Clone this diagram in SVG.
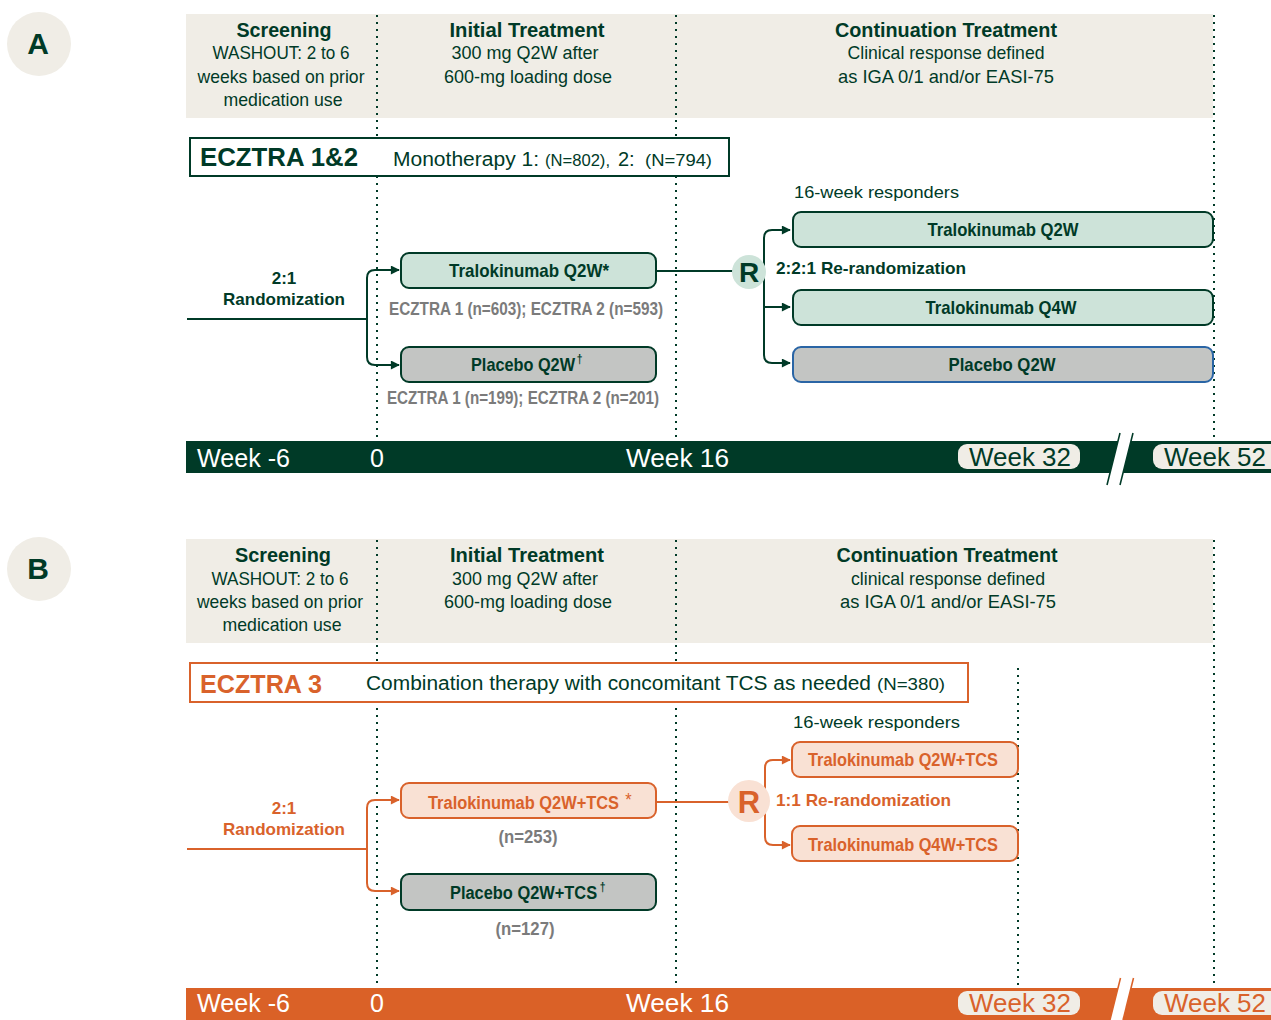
<svg xmlns="http://www.w3.org/2000/svg" width="1271" height="1020" viewBox="0 0 1271 1020">
<style>
.dk{fill:#003a27}
.or{fill:#d9622b}
.gy{fill:#7b7b7b}
.wh{fill:#ffffff}
.bg{fill:#f0ede6}
.hb{font-family:"Liberation Sans",Arial,sans-serif;font-weight:bold;font-size:20px}
.hr{font-family:"Liberation Sans Narrow","Liberation Sans",Arial,sans-serif;font-size:19px}
.cb{font-family:"Liberation Sans Narrow","Liberation Sans",Arial,sans-serif;font-weight:bold;font-size:19px}
.lb{font-family:"Liberation Sans",Arial,sans-serif;font-weight:bold;font-size:17px}
.rg{font-family:"Liberation Sans",Arial,sans-serif;font-size:17px}
.wk{font-family:"Liberation Sans",Arial,sans-serif;font-size:25px}
.big{font-family:"Liberation Sans",Arial,sans-serif;font-weight:900;font-size:25px}
.sup{font-size:12px;font-weight:bold}
.dot{stroke:#003a27;stroke-width:2;stroke-dasharray:2 5;fill:none}
.cg{stroke:#003a27;stroke-width:2;fill:none}
.co{stroke:#d9622b;stroke-width:2;fill:none}
.bxg{fill:#cde3d9;stroke:#003a27;stroke-width:2}
.bxy{fill:#c3c5c3;stroke:#003a27;stroke-width:2}
.bxb{fill:#c3c5c3;stroke:#2a65a5;stroke-width:2}
.bxo{fill:#f9e1d4;stroke:#d9622b;stroke-width:2}
</style>
<defs>
<marker id="ag" viewBox="0 0 10 10" refX="9" refY="5" markerWidth="11" markerHeight="9" markerUnits="userSpaceOnUse" orient="auto"><path d="M0,0 L10,5 L0,10 z" fill="#003a27"/></marker>
<marker id="ao" viewBox="0 0 10 10" refX="9" refY="5" markerWidth="11" markerHeight="9" markerUnits="userSpaceOnUse" orient="auto"><path d="M0,0 L10,5 L0,10 z" fill="#d9622b"/></marker>
</defs>
<rect width="1271" height="1020" fill="#ffffff"/>

<!-- ===== Section A ===== -->
<g id="labelA">
<circle cx="39" cy="44" r="32" class="bg"/>
<text x="38" y="54" text-anchor="middle" class="dk" font-family="Liberation Sans, Arial, sans-serif" font-weight="900" font-size="30">A</text>
</g>
<g id="headerA">
<rect x="186" y="14" width="1027" height="104" class="bg"/>
<text x="284" y="37" text-anchor="middle" class="hb dk" textLength="95" lengthAdjust="spacingAndGlyphs">Screening</text>
<text x="281" y="59" text-anchor="middle" class="hr dk" textLength="137" lengthAdjust="spacingAndGlyphs">WASHOUT: 2 to 6</text>
<text x="281" y="83" text-anchor="middle" class="hr dk" textLength="167" lengthAdjust="spacingAndGlyphs">weeks based on prior</text>
<text x="283" y="106" text-anchor="middle" class="hr dk" textLength="119" lengthAdjust="spacingAndGlyphs">medication use</text>
<text x="527" y="37" text-anchor="middle" class="hb dk" textLength="155" lengthAdjust="spacingAndGlyphs">Initial Treatment</text>
<text x="525" y="59" text-anchor="middle" class="hr dk" textLength="147" lengthAdjust="spacingAndGlyphs">300 mg Q2W after</text>
<text x="528" y="83" text-anchor="middle" class="hr dk" textLength="168" lengthAdjust="spacingAndGlyphs">600-mg loading dose</text>
<text x="946" y="37" text-anchor="middle" class="hb dk" textLength="222" lengthAdjust="spacingAndGlyphs">Continuation Treatment</text>
<text x="946" y="59" text-anchor="middle" class="hr dk" textLength="197" lengthAdjust="spacingAndGlyphs">Clinical response defined</text>
<text x="946" y="83" text-anchor="middle" class="hr dk" textLength="216" lengthAdjust="spacingAndGlyphs">as IGA 0/1 and/or EASI-75</text>
</g>
<g id="gridA">
<line x1="377" y1="15" x2="377" y2="440" class="dot"/>
<line x1="676" y1="15" x2="676" y2="440" class="dot"/>
<line x1="1214" y1="15" x2="1214" y2="440" class="dot"/>
</g>
<g id="studyA">
<rect x="190" y="138" width="539" height="38" fill="#ffffff" stroke="#003a27" stroke-width="2"/>
<text x="200" y="166" class="big dk" font-size="26" textLength="158" lengthAdjust="spacingAndGlyphs">ECZTRA 1&amp;2</text>
<text x="393" y="166" class="dk" font-family="Liberation Sans, Arial, sans-serif" font-size="20" textLength="146" lengthAdjust="spacingAndGlyphs">Monotherapy 1:</text>
<text x="545" y="166" class="dk" font-family="Liberation Sans, Arial, sans-serif" font-size="17" textLength="65" lengthAdjust="spacingAndGlyphs">(N=802),</text>
<text x="618" y="166" class="dk" font-family="Liberation Sans, Arial, sans-serif" font-size="20">2:</text>
<text x="645" y="166" class="dk" font-family="Liberation Sans, Arial, sans-serif" font-size="17" textLength="67" lengthAdjust="spacingAndGlyphs">(N=794)</text>
</g>
<g id="connectorsA">
<path d="M187,319 H367" class="cg"/>
<path d="M367,319 V278 Q367,270 375,270 H399" class="cg" marker-end="url(#ag)"/>
<path d="M367,319 V357 Q367,365 375,365 H399" class="cg" marker-end="url(#ag)"/>
<path d="M656,271 H740" class="cg"/>
<path d="M764,271 V238 Q764,230 772,230 H790" class="cg" marker-end="url(#ag)"/>
<path d="M764,271 V355 Q764,363 772,363 H790" class="cg" marker-end="url(#ag)"/>
<path d="M764,307 H790" class="cg" marker-end="url(#ag)"/>
</g>
<g id="randA">
<text x="284" y="284" text-anchor="middle" class="lb dk">2:1</text>
<text x="284" y="305" text-anchor="middle" class="lb dk" textLength="122" lengthAdjust="spacingAndGlyphs">Randomization</text>
</g>
<g id="traloA">
<rect x="401" y="253" width="255" height="35" rx="8" class="bxg"/>
<text x="529" y="277" text-anchor="middle" class="cb dk" textLength="160" lengthAdjust="spacingAndGlyphs">Tralokinumab Q2W*</text>
<text x="526" y="315" text-anchor="middle" class="cb gy" textLength="274" lengthAdjust="spacingAndGlyphs">ECZTRA 1 (n=603); ECZTRA 2 (n=593)</text>
</g>
<g id="placeboA">
<rect x="401" y="347" width="255" height="35" rx="8" class="bxy"/>
<text transform="translate(471,371) scale(0.857,1)" class="cb dk">Placebo Q2W<tspan class="sup" dx="2" dy="-8">†</tspan></text>
<text x="523" y="404" text-anchor="middle" class="cb gy" textLength="272" lengthAdjust="spacingAndGlyphs">ECZTRA 1 (n=199); ECZTRA 2 (n=201)</text>
</g>
<g id="rA">
<circle cx="749" cy="272" r="17" fill="#cde3d9"/>
<text x="749" y="282" text-anchor="middle" class="dk" font-family="Liberation Sans, Arial, sans-serif" font-weight="900" font-size="28">R</text>
<text x="776" y="274" class="lb dk" font-size="16" textLength="190" lengthAdjust="spacingAndGlyphs">2:2:1 Re-randomization</text>
<text x="794" y="198" class="rg dk" textLength="165" lengthAdjust="spacingAndGlyphs">16-week responders</text>
</g>
<g id="contA1">
<rect x="793" y="212" width="420" height="35" rx="8" class="bxg"/>
<text x="1003" y="236" text-anchor="middle" class="cb dk" textLength="151" lengthAdjust="spacingAndGlyphs">Tralokinumab Q2W</text>
</g>
<g id="contA2">
<rect x="793" y="290" width="420" height="35" rx="8" class="bxg"/>
<text x="1001" y="314" text-anchor="middle" class="cb dk" textLength="151" lengthAdjust="spacingAndGlyphs">Tralokinumab Q4W</text>
</g>
<g id="contA3">
<rect x="793" y="347" width="420" height="35" rx="8" class="bxb"/>
<text x="1002" y="371" text-anchor="middle" class="cb dk" textLength="107" lengthAdjust="spacingAndGlyphs">Placebo Q2W</text>
</g>
<g id="timelineA">
<rect x="186" y="441" width="1085" height="32" fill="#003a27"/>
<polygon points="1110,473 1118,441 1131,441 1123,473" fill="#ffffff"/>
<line x1="1107" y1="485" x2="1120" y2="433" stroke="#003a27" stroke-width="1.5"/>
<line x1="1120" y1="485" x2="1133" y2="433" stroke="#003a27" stroke-width="1.5"/>
<text x="197" y="467" class="wk wh" textLength="93" lengthAdjust="spacingAndGlyphs">Week -6</text>
<text x="377" y="467" text-anchor="middle" class="wk wh">0</text>
<text x="626" y="467" class="wk wh" textLength="103" lengthAdjust="spacingAndGlyphs">Week 16</text>
<rect x="958" y="444" width="122" height="25" rx="9" class="bg"/>
<text x="969" y="466" class="wk dk" textLength="102" lengthAdjust="spacingAndGlyphs">Week 32</text>
<rect x="1153" y="444" width="130" height="25" rx="9" class="bg"/>
<text x="1164" y="466" class="wk dk" textLength="102" lengthAdjust="spacingAndGlyphs">Week 52</text>
</g>

<!-- ===== Section B ===== -->
<g id="labelB">
<circle cx="39" cy="569" r="32" class="bg"/>
<text x="38" y="579" text-anchor="middle" class="dk" font-family="Liberation Sans, Arial, sans-serif" font-weight="900" font-size="30">B</text>
</g>
<g id="headerB">
<rect x="186" y="539" width="1027" height="104" class="bg"/>
<text x="283" y="562" text-anchor="middle" class="hb dk" textLength="96" lengthAdjust="spacingAndGlyphs">Screening</text>
<text x="280" y="585" text-anchor="middle" class="hr dk" textLength="137" lengthAdjust="spacingAndGlyphs">WASHOUT: 2 to 6</text>
<text x="280" y="608" text-anchor="middle" class="hr dk" textLength="166" lengthAdjust="spacingAndGlyphs">weeks based on prior</text>
<text x="282" y="631" text-anchor="middle" class="hr dk" textLength="119" lengthAdjust="spacingAndGlyphs">medication use</text>
<text x="527" y="562" text-anchor="middle" class="hb dk" textLength="154" lengthAdjust="spacingAndGlyphs">Initial Treatment</text>
<text x="525" y="585" text-anchor="middle" class="hr dk" textLength="146" lengthAdjust="spacingAndGlyphs">300 mg Q2W after</text>
<text x="528" y="608" text-anchor="middle" class="hr dk" textLength="168" lengthAdjust="spacingAndGlyphs">600-mg loading dose</text>
<text x="947" y="562" text-anchor="middle" class="hb dk" textLength="221" lengthAdjust="spacingAndGlyphs">Continuation Treatment</text>
<text x="948" y="585" text-anchor="middle" class="hr dk" textLength="194" lengthAdjust="spacingAndGlyphs">clinical response defined</text>
<text x="948" y="608" text-anchor="middle" class="hr dk" textLength="216" lengthAdjust="spacingAndGlyphs">as IGA 0/1 and/or EASI-75</text>
</g>
<g id="gridB">
<line x1="377" y1="540" x2="377" y2="987" class="dot"/>
<line x1="676" y1="540" x2="676" y2="987" class="dot"/>
<line x1="1018" y1="668" x2="1018" y2="987" class="dot"/>
<line x1="1214" y1="540" x2="1214" y2="987" class="dot"/>
</g>
<g id="studyB">
<rect x="190" y="663" width="778" height="39" fill="#ffffff" stroke="#d9622b" stroke-width="2"/>
<text x="200" y="693" class="big or" textLength="122" lengthAdjust="spacingAndGlyphs">ECZTRA 3</text>
<text x="366" y="690" class="dk" font-family="Liberation Sans Narrow, Liberation Sans, Arial, sans-serif" font-size="20" textLength="505" lengthAdjust="spacingAndGlyphs">Combination therapy with concomitant TCS as needed</text>
<text x="877" y="690" class="dk" font-family="Liberation Sans Narrow, Liberation Sans, Arial, sans-serif" font-size="17" textLength="68" lengthAdjust="spacingAndGlyphs">(N=380)</text>
</g>
<g id="connectorsB">
<path d="M187,849 H367" class="co"/>
<path d="M367,849 V808 Q367,800 375,800 H399" class="co" marker-end="url(#ao)"/>
<path d="M367,849 V883 Q367,891 375,891 H399" class="co" marker-end="url(#ao)"/>
<path d="M656,802 H735" class="co"/>
<path d="M765,802 V768 Q765,760 773,760 H790" class="co" marker-end="url(#ao)"/>
<path d="M765,802 V837 Q765,845 773,845 H790" class="co" marker-end="url(#ao)"/>
</g>
<g id="randB">
<text x="284" y="814" text-anchor="middle" class="lb or">2:1</text>
<text x="284" y="835" text-anchor="middle" class="lb or" textLength="122" lengthAdjust="spacingAndGlyphs">Randomization</text>
</g>
<g id="traloB">
<rect x="401" y="783" width="255" height="35" rx="8" class="bxo"/>
<text transform="translate(428,809) scale(0.864,1)" class="cb or">Tralokinumab Q2W+TCS <tspan dx="2" dy="-3" font-weight="normal">*</tspan></text>
<text x="528" y="843" text-anchor="middle" class="cb gy" textLength="59" lengthAdjust="spacingAndGlyphs">(n=253)</text>
</g>
<g id="placeboB">
<rect x="401" y="874" width="255" height="36" rx="8" class="bxy"/>
<text transform="translate(450,899) scale(0.863,1)" class="cb dk">Placebo Q2W+TCS<tspan class="sup" dx="3" dy="-8">†</tspan></text>
<text x="525" y="935" text-anchor="middle" class="cb gy" textLength="59" lengthAdjust="spacingAndGlyphs">(n=127)</text>
</g>
<g id="rB">
<circle cx="749" cy="801" r="21" fill="#f9e1d4"/>
<text x="749" y="813" text-anchor="middle" class="or" font-family="Liberation Sans, Arial, sans-serif" font-weight="900" font-size="31">R</text>
<text x="776" y="806" class="lb or" textLength="175" lengthAdjust="spacingAndGlyphs">1:1 Re-randomization</text>
<text x="793" y="728" class="rg dk" textLength="167" lengthAdjust="spacingAndGlyphs">16-week responders</text>
</g>
<g id="contB1">
<rect x="792" y="742" width="226" height="35" rx="8" class="bxo"/>
<text x="808" y="766" class="cb or" textLength="190" lengthAdjust="spacingAndGlyphs">Tralokinumab Q2W+TCS</text>
</g>
<g id="contB2">
<rect x="792" y="826" width="226" height="35" rx="8" class="bxo"/>
<text x="808" y="851" class="cb or" textLength="190" lengthAdjust="spacingAndGlyphs">Tralokinumab Q4W+TCS</text>
</g>
<g id="timelineB">
<rect x="186" y="988" width="1085" height="32" fill="#da6127"/>
<polygon points="1110,1020 1118,988 1131,988 1123,1020" fill="#ffffff"/>
<line x1="1110" y1="1020" x2="1120.5" y2="978" stroke="#da6127" stroke-width="1.5"/>
<line x1="1123" y1="1020" x2="1133.5" y2="978" stroke="#da6127" stroke-width="1.5"/>
<text x="197" y="1012" class="wk wh" textLength="93" lengthAdjust="spacingAndGlyphs">Week -6</text>
<text x="377" y="1012" text-anchor="middle" class="wk wh">0</text>
<text x="626" y="1012" class="wk wh" textLength="103" lengthAdjust="spacingAndGlyphs">Week 16</text>
<rect x="958" y="991" width="122" height="24" rx="9" class="bg"/>
<text x="969" y="1012" class="wk or" textLength="102" lengthAdjust="spacingAndGlyphs">Week 32</text>
<rect x="1153" y="991" width="130" height="24" rx="9" class="bg"/>
<text x="1164" y="1012" class="wk or" textLength="102" lengthAdjust="spacingAndGlyphs">Week 52</text>
</g>
</svg>
